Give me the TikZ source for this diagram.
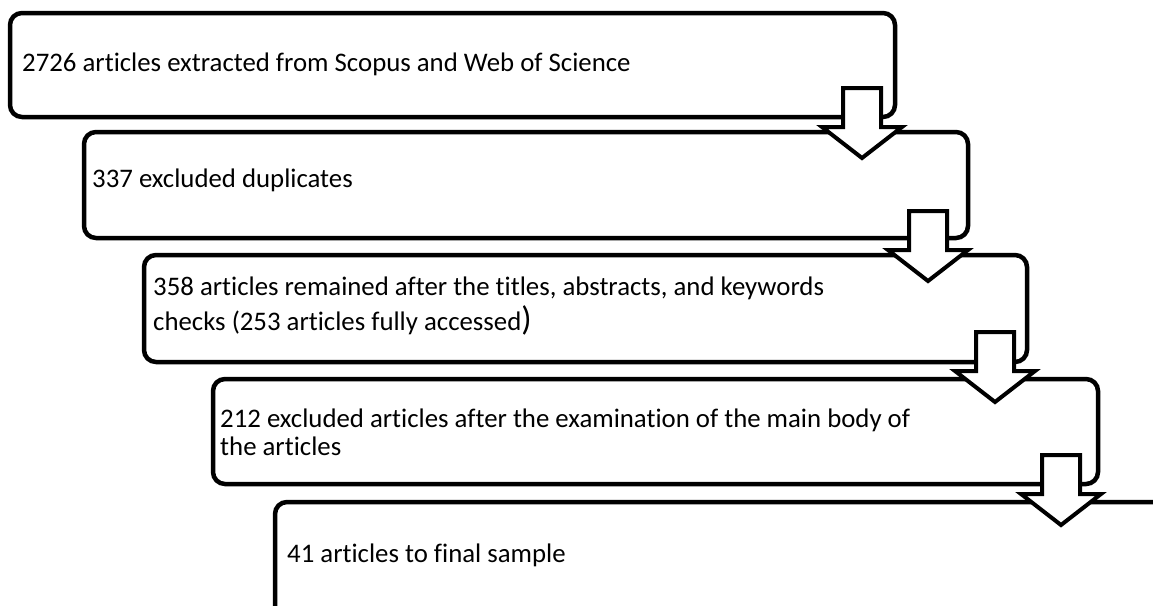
\documentclass[tikz,border=0pt]{standalone}
\usepackage{fontspec}
\setmainfont{Carlito}[Ligatures=NoCommon]
\begin{document}
\begin{tikzpicture}[x=1pt,y=-1pt,
  box/.style={draw, line width=4.5pt, rounded corners=12pt, anchor=north west, inner sep=0pt, outer sep=0pt, fill=white},
  lbl/.style={anchor=base west, inner sep=0pt, font=\fontsize{26.8}{28}\selectfont, align=left},
  barrow/.style={draw, fill=white, line width=4pt, line join=miter},
  downarrow/.pic={\draw[barrow] (-19,0) -- (19,0) -- (19,39) -- (40,39) -- (0,70) -- (-40,39) -- (-19,39) -- cycle;}]
\clip (0,0) rectangle (1153,605);
\fill[white] (0,0) rectangle (1153,605);
\node[box, minimum width=885pt, minimum height=104pt] (b1) at (10,13) {};
\node[box, minimum width=884pt, minimum height=106pt] (b2) at (84,132) {};
\node[box, minimum width=883pt, minimum height=107pt] (b3) at (144,255) {};
\node[box, minimum width=885pt, minimum height=105pt] (b4) at (213,379) {};
\node[box, minimum width=975pt, minimum height=200pt] (b5) at (275,502) {};
\node[lbl] (t1) at (22,71) {2726 articles extracted from Scopus and Web of Science};
\node[lbl] (t2) at (92,187) {337 excluded duplicates};
\node[lbl] (t3) at (153,330) {358 articles remained after the titles, abstracts, and keywords\\[4pt]checks (253 articles fully accessed{\fontsize{34}{34}\selectfont)}};
\node[lbl] (t4) at (220,455) {212 excluded articles after the examination of the main body of\\the articles};
\node[lbl] (t5) at (287,562) {41 articles to final sample};
\pic (a1) at ([xshift=-33pt,yshift=29pt]b1.south east) {downarrow};
\pic (a2) at ([xshift=-40pt,yshift=27pt]b2.south east) {downarrow};
\pic (a3) at ([xshift=-32pt,yshift=30pt]b3.south east) {downarrow};
\pic (a4) at ([xshift=-37pt,yshift=29pt]b4.south east) {downarrow};
\end{tikzpicture}
\end{document}
